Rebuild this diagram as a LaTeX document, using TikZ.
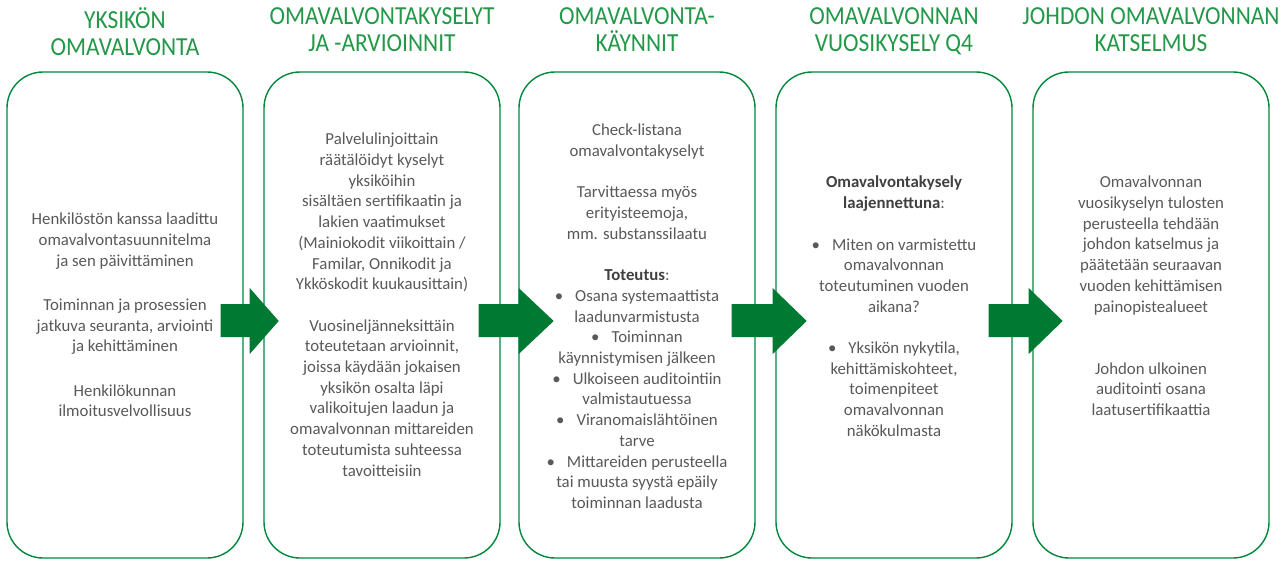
\documentclass[tikz,border=0pt]{standalone}
\usepackage{fontspec}
\setmainfont{Carlito}
\newfontfamily\ttlfont[FakeStretch=0.9]{Carlito}
\usetikzlibrary{calc}
\definecolor{ttlgreen}{RGB}{35,152,72}
\definecolor{boxgreen}{RGB}{0,135,60}
\definecolor{arrgreen}{RGB}{0,122,51}
\definecolor{txtgray}{RGB}{89,89,89}
\definecolor{boldgray}{RGB}{64,64,64}
\newcommand\blockarrow[4]{%
  \fill[blockarr] ($(#1.east)+(#2,-11)$) -- ($(#1.east)+(#3,-11)$) -- ($(#1.east)+(#3,-27)$)
    -- ($(#1.east)+(#4,6)$) -- ($(#1.east)+(#3,39)$) -- ($(#1.east)+(#3,22)$)
    -- ($(#1.east)+(#2,22)$) -- cycle;}
\newcommand\bul{\textbullet\hspace{12pt}}
\begin{document}
\begin{tikzpicture}[x=1pt,y=-1pt,
  colbox/.style={draw=boxgreen, line width=1.4pt, rounded corners=36pt, minimum width=236pt, minimum height=486pt, inner sep=0pt},
  ttl/.style={text=ttlgreen, font=\ttlfont\fontsize{26}{27}\selectfont, align=center, anchor=north, inner sep=0pt},
  body/.style={text=txtgray, font=\fontsize{16.8}{20.7}\selectfont, align=center, anchor=north, inner sep=0pt},
  blockarr/.style={fill=arrgreen}
]
\useasboundingbox (0,0) rectangle (1288,560);
\fill[white] (0,0) rectangle (1288,560);

\node[colbox] (b1) at (125,315) {};
\node[colbox] (b2) at (382,315) {};
\node[colbox] (b3) at (637,315) {};
\node[colbox] (b4) at (894,315) {};
\node[colbox] (b5) at (1151,315) {};

\node[ttl] (t1) at (125,7) {YKSIKÖN\\OMAVALVONTA};
\node[ttl] (t2) at (382,7) {OMAVALVONTAKYSELYT\\JA -ARVIOINNIT};
\node[ttl] (t3) at (637,7) {OMAVALVONTA-\\KÄYNNIT};
\node[ttl] (t4) at (894,7) {OMAVALVONNAN\\VUOSIKYSELY Q4};
\node[ttl] (t5) at (1151,7) {JOHDON OMAVALVONNAN\\KATSELMUS};

\node[body] (c1) at (125,213) {Henkilöstön kanssa laadittu\\omavalvontasuunnitelma\\ja sen päivittäminen\\[23.5pt]
Toiminnan ja prosessien\\jatkuva seuranta, arviointi\\ja kehittäminen\\[23.5pt]
Henkilökunnan\\ilmoitusvelvollisuus};

\node[body] (c2) at (382,133) {Palvelulinjoittain\\räätälöidyt kyselyt\\yksiköihin\\sisältäen sertifikaatin ja\\lakien vaatimukset\\(Mainiokodit viikoittain /\\Familar, Onnikodit ja\\Ykköskodit kuukausittain)\\[20.7pt]
Vuosineljänneksittäin\\toteutetaan arvioinnit,\\joissa käydään jokaisen\\yksikön osalta läpi\\valikoitujen laadun ja\\omavalvonnan mittareiden\\toteutumista suhteessa\\tavoitteisiin};

\node[body] (c3) at (637,124) {Check-listana\\omavalvontakyselyt\\[20.7pt]
Tarvittaessa myös\\erityisteemoja,\\mm. substanssilaatu\\[20.7pt]
{\color{boldgray}\bfseries Toteutus}:\\
\bul Osana systemaattista\\laadunvarmistusta\\
\bul Toiminnan\\käynnistymisen jälkeen\\
\bul Ulkoiseen auditointiin\\valmistautuessa\\
\bul Viranomaislähtöinen\\tarve\\
\bul Mittareiden perusteella\\tai muusta syystä epäily\\toiminnan laadusta};

\node[body] (c4) at (894,176) {{\color{boldgray}\bfseries Omavalvontakysely}\\{\color{boldgray}\bfseries laajennettuna}:\\[20.7pt]
\bul Miten on varmistettu\\omavalvonnan\\toteutuminen vuoden\\aikana?\\[20.7pt]
\bul Yksikön nykytila,\\kehittämiskohteet,\\toimenpiteet\\omavalvonnan\\näkökulmasta};

\node[body] (c5) at (1151,176) {Omavalvonnan\\vuosikyselyn tulosten\\perusteella tehdään\\johdon katselmus ja\\päätetään seuraavan\\vuoden kehittämisen\\painopistealueet\\[41.4pt]
Johdon ulkoinen\\auditointi osana\\laatusertifikaattia};

\blockarrow{b1}{-23}{6}{35}
\blockarrow{b2}{-22}{18}{53}
\blockarrow{b3}{-24}{17}{51}
\blockarrow{b4}{-24}{16}{50}
\end{tikzpicture}
\end{document}
